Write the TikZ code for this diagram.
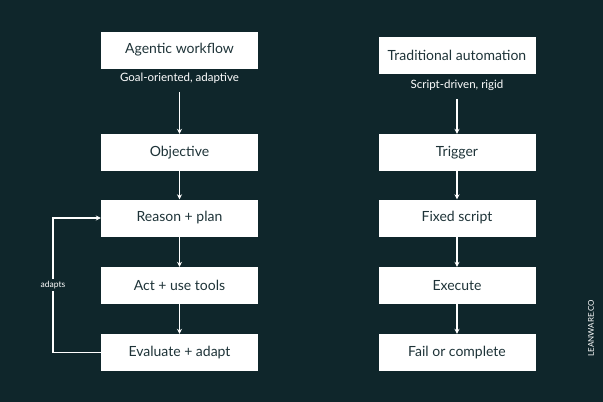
\documentclass[tikz,border=0pt]{standalone}
\usepackage{fontspec}
\setmainfont{Lato}
\usetikzlibrary{arrows.meta}
\definecolor{bg}{HTML}{0F262B}
\definecolor{tx}{HTML}{1E3338}
\begin{document}
\begin{tikzpicture}[x=1pt,y=-1pt,
  box/.style={fill=white,draw=none,minimum width=157pt,minimum height=37pt,text=tx,font=\fontsize{14}{16}\selectfont,inner sep=0pt},
  sub/.style={text=white,font=\fontsize{11.5}{13}\selectfont},
  arr/.style={draw=white,line width=1.3pt,-{Stealth[length=5pt,width=5pt]}}]
\fill[bg] (0,0) rectangle (603,402);
\useasboundingbox (0,0) rectangle (603,402);
\node[box] (a0) at (179.5,50) {Agentic workflow};
\node[sub] (as) at (179.5,78) {Goal-oriented, adaptive};
\node[box] (a1) at (179.5,152.5) {Objective};
\node[box] (a2) at (179.5,218) {Reason + plan};
\node[box] (a3) at (179.5,285.5) {Act + use tools};
\node[box] (a4) at (179.5,352.5) {Evaluate + adapt};
\node[box] (b0) at (457,55) {Traditional automation};
\node[sub] (bs) at (457,85) {Script-driven, rigid};
\node[box] (b1) at (457,152.5) {Trigger};
\node[box] (b2) at (457,218) {Fixed script};
\node[box] (b3) at (457,285.5) {Execute};
\node[box] (b4) at (457,352.5) {Fail or complete};
\draw[arr] (as.south) ++(0,5) coordinate (as2) -- (a1.north);
\draw[arr] (bs.south) ++(0,5) coordinate (bs2) -- (b1.north);
\foreach \p/\q in {a1/a2,a2/a3,a3/a4,b1/b2,b2/b3,b3/b4} \draw[arr] (\p) -- (\q);
\draw[arr] (a4.west) -- (53,352.5) -- (53,218) -- (a2.west);
\node[fill=bg,text=white,font=\fontsize{8.5}{10}\selectfont,inner sep=2pt] (ad) at (53,285) {adapts};
\node[rotate=90,text=white,font=\fontsize{8}{9}\selectfont] (lw) at (591,328) {LEANWARE.CO};
\end{tikzpicture}
\end{document}
